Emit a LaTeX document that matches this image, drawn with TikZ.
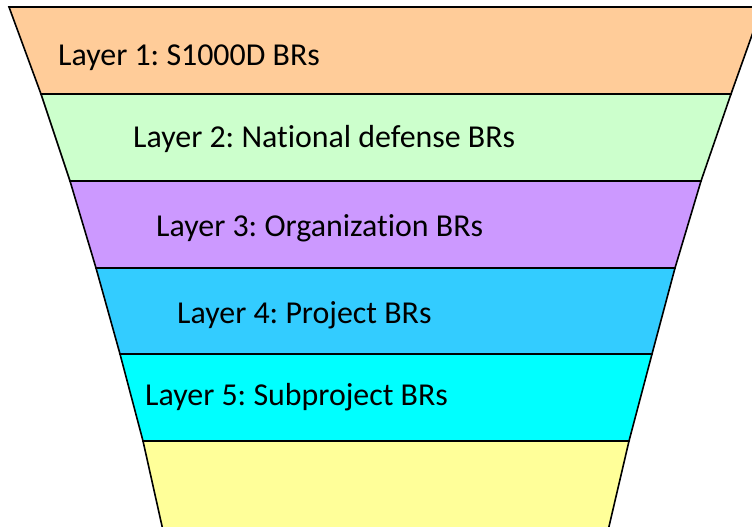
\documentclass[tikz,border=0pt]{standalone}
\usepackage{fontspec}
\setmainfont[Ligatures={NoCommon}]{Carlito}
\frenchspacing
\definecolor{bandA}{HTML}{FFCC99}
\definecolor{bandB}{HTML}{CCFFCC}
\definecolor{bandC}{HTML}{CC99FF}
\definecolor{bandD}{HTML}{33CCFF}
\definecolor{bandE}{HTML}{00FFFF}
\definecolor{bandF}{HTML}{FFFF99}
\begin{document}
\begin{tikzpicture}[x=1pt,y=-1pt,
  band/.style={draw=black,line width=1.6pt,line join=miter},
  lbl/.style={anchor=base west,inner sep=0pt,font=\fontsize{31.9}{36}\selectfont,text=black}]
\useasboundingbox (0,0) rectangle (752,527);
\clip (0,0) rectangle (752,527);
\fill[white] (0,0) rectangle (752,527);
\draw[band,fill=bandF] (143,441) -- (629,441) -- (607,535) -- (164,535) -- cycle;
\draw[band,fill=bandE] (120,354) -- (652,354) -- (629,441) -- (143,441) -- cycle;
\draw[band,fill=bandD] (96,268) -- (675,268) -- (652,354) -- (120,354) -- cycle;
\draw[band,fill=bandC] (70,181) -- (701,181) -- (675,268) -- (96,268) -- cycle;
\draw[band,fill=bandB] (41,94) -- (731,94) -- (701,181) -- (70,181) -- cycle;
\draw[band,fill=bandA] (9,7) -- (762,7) -- (731,94) -- (41,94) -- cycle;
\node[lbl] (l1) at (58,66) {Layer 1: S1000D BRs};
\node[lbl] (l2) at (133,147) {Layer 2: National defense BRs};
\node[lbl] (l3) at (156,236) {Layer 3: Organization BRs};
\node[lbl] (l4) at (177,323) {Layer 4: Project BRs};
\node[lbl] (l5) at (145,405) {Layer 5: Subproject BRs};
\end{tikzpicture}
\end{document}
